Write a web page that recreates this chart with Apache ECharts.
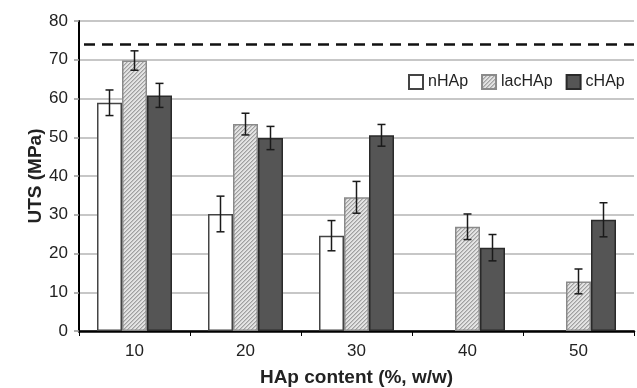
<!DOCTYPE html>
<html>
<head>
<meta charset="utf-8">
<script src="https://cdn.jsdelivr.net/npm/echarts@6/dist/echarts.min.js"></script>
<style>
  html, body { margin: 0; padding: 0; background: #fff; }
  #chart { width: 637px; height: 388px; }
</style>
</head>
<body>
<div id="chart"></div>
<script>
// ---- data ----
const categories = ['10', '20', '30', '40', '50'];
const seriesNames = ['nHAp', 'lacHAp', 'cHAp'];
const nHAp   = [58.9, 30.2, 24.6, null, null];
const lacHAp = [69.8, 53.4, 34.5, 26.9, 12.8];
const cHAp   = [60.8, 49.8, 50.5, 21.5, 28.7];
const nHApErr   = [3.3, 4.6, 3.9, null, null];
const lacHApErr = [2.5, 2.8, 4.1, 3.3, 3.2];
const cHApErr   = [3.1, 3.0, 2.8, 3.4, 4.4];
const referenceLine = 74;
const yTicks = { min: 0, max: 80, interval: 10 };

// ---- styles ----
const BAR_W = 25;
const FONT = '"Liberation Sans", Arial, sans-serif';

function hatchPattern() {
  const c = document.createElement('canvas');
  c.width = 4; c.height = 4;
  const ctx = c.getContext('2d');
  const img = ctx.createImageData(4, 4);
  for (let y = 0; y < 4; y++) {
    for (let x = 0; x < 4; x++) {
      const m = (x + y) % 4;
      let v = 228;
      if (m === 0) v = 160;
      else if (m === 1) v = 195;
      const i = (y * 4 + x) * 4;
      img.data[i] = v; img.data[i + 1] = v; img.data[i + 2] = v; img.data[i + 3] = 255;
    }
  }
  ctx.putImageData(img, 0, 0);
  return c;
}
const hatch = hatchPattern();

const values = [nHAp, lacHAp, cHAp];
const errs = [nHApErr, lacHApErr, cHApErr];
const styles = [
  { color: '#ffffff', borderColor: '#444444', borderWidth: 1.5 },
  { color: { image: hatch, repeat: 'repeat' }, borderColor: '#8a8a8a', borderWidth: 1.5 },
  { color: '#555555', borderColor: '#2a2a2a', borderWidth: 1.5 }
];

const series = [];
values.forEach((vals, k) => {
  series.push({
    name: seriesNames[k],
    type: 'bar',
    data: vals,
    barWidth: BAR_W,
    barGap: '0%',
    itemStyle: styles[k],
    emphasis: { disabled: true },
    animation: false,
    z: 2,
    markLine: k === 0 ? {
      silent: true,
      symbol: 'none',
      label: { show: false },
      lineStyle: { color: '#111', width: 2.5, type: [11, 7], dashOffset: -5 },
      data: [{ yAxis: referenceLine }]
    } : undefined
  });
});

errs.forEach((errArr, k) => {
  const data = [];
  errArr.forEach((e, i) => {
    if (e != null && values[k][i] != null) {
      data.push([i, values[k][i] - e, values[k][i] + e]);
    }
  });
  series.push({
    type: 'custom',
    name: seriesNames[k] + ' err',
    data: data,
    z: 5,
    silent: true,
    animation: false,
    encode: { x: 0, y: [1, 2] },
    renderItem: function (params, api) {
      const i = api.value(0);
      const pHi = api.coord([i, api.value(2)]);
      const pLo = api.coord([i, api.value(1)]);
      const x = pHi[0] + (k - 1) * BAR_W;
      const cap = 4;
      const st = { stroke: '#1a1a1a', lineWidth: 1.5 };
      return {
        type: 'group',
        children: [
          { type: 'line', shape: { x1: x, y1: pHi[1], x2: x, y2: pLo[1] }, style: st },
          { type: 'line', shape: { x1: x - cap, y1: pHi[1], x2: x + cap, y2: pHi[1] }, style: st },
          { type: 'line', shape: { x1: x - cap, y1: pLo[1], x2: x + cap, y2: pLo[1] }, style: st }
        ]
      };
    }
  });
});

const chart = echarts.init(document.getElementById('chart'), null, { renderer: 'canvas' });
chart.setOption({
  animation: false,
  backgroundColor: '#ffffff',
  textStyle: { fontFamily: FONT },
  grid: { left: 79, right: 3, top: 21, bottom: 57, containLabel: false, outerBoundsMode: 'none' },
  legend: {
    data: seriesNames,
    left: 403,
    top: 69,
    icon: 'rect',
    itemWidth: 14,
    itemHeight: 14,
    itemGap: 13,
    textStyle: { fontSize: 16, color: '#222', fontFamily: FONT },
    selectedMode: false
  },
  xAxis: {
    type: 'category',
    data: categories,
    name: 'HAp content (%, w/w)',
    nameLocation: 'middle',
    nameGap: 37,
    nameMoveOverlap: false,
    nameTextStyle: { fontSize: 19, fontWeight: 'bold', color: '#222', fontFamily: FONT },
    axisLine: { lineStyle: { color: '#000', width: 2.5 } },
    axisTick: { show: true, length: 5, lineStyle: { color: '#000', width: 1 } },
    axisLabel: { fontSize: 17, color: '#222', margin: 12, fontFamily: FONT },
    splitLine: { show: false }
  },
  yAxis: {
    type: 'value',
    min: yTicks.min,
    max: yTicks.max,
    interval: yTicks.interval,
    name: 'UTS (MPa)',
    nameLocation: 'middle',
    nameGap: 34,
    nameMoveOverlap: false,
    nameRotate: 90,
    nameTextStyle: { fontSize: 19, fontWeight: 'bold', color: '#222', fontFamily: FONT },
    axisLine: { show: true, lineStyle: { color: '#000', width: 2 } },
    axisTick: { show: true, length: 5, lineStyle: { color: '#999', width: 1.5 } },
    axisLabel: { fontSize: 17, color: '#222', margin: 11, fontFamily: FONT },
    splitLine: { show: true, lineStyle: { color: '#b4b4b4', width: 1.5 } }
  },
  series: series
});
</script>
</body>
</html>
